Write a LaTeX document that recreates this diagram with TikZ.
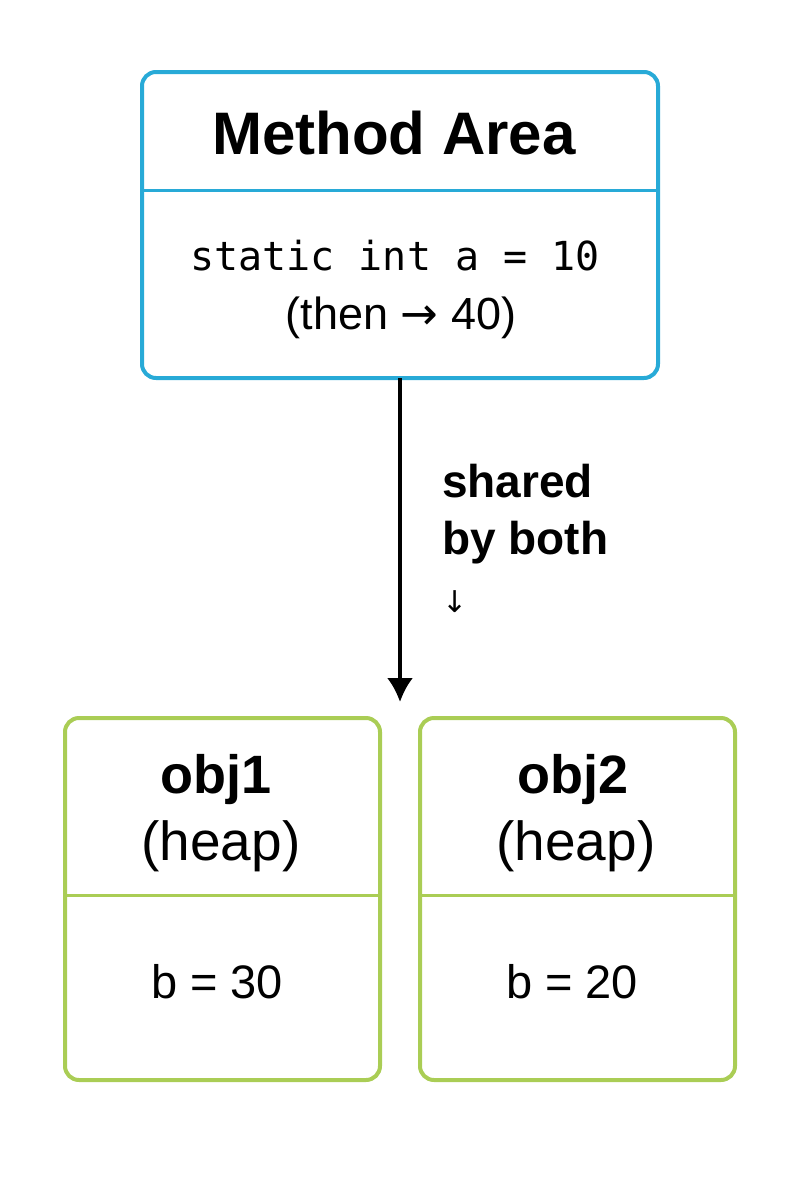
\documentclass[tikz,border=0pt]{standalone}
\usepackage{fontspec}
\usetikzlibrary{arrows.meta}
\setmainfont{Liberation Sans}
\setmonofont{DejaVu Sans Mono}
\newfontfamily\djfont{DejaVu Sans}
\definecolor{blu}{RGB}{40,170,215}
\definecolor{grn}{RGB}{170,205,85}
\begin{document}
\begin{tikzpicture}[x=1pt,y=-1pt,
  boxb/.style={draw=blu,line width=4pt,rounded corners=14pt},
  boxg/.style={draw=grn,line width=4pt,rounded corners=14pt},
  txt/.style={inner sep=0pt,anchor=base}]
\useasboundingbox (0,0) rectangle (800,1200);
% method area
\draw[boxb] (142,72) rectangle (658,378);
\draw[blu,line width=3pt] (142,190) -- (658,190);
\node[txt] (ma) at (394,154) {\fontsize{60}{70}\selectfont\bfseries Method Area};
\node[txt] (st) at (395,270) {\fontsize{40}{48}\selectfont\ttfamily static int a = 10};
\node[txt] (th) at (401,329) {\fontsize{45}{54}\selectfont(then {\djfont→} 40)};
\coordinate (top) at (400,378);
\coordinate (bot) at (400,702);
\draw[line width=3.5pt,-{Latex[length=24pt,width=26pt]}] (top) -- (bot);
\node[txt,anchor=base west] (sh) at (442,497) {\fontsize{46}{54}\selectfont\bfseries shared};
\node[txt,anchor=base west] (bb) at (442,554) {\fontsize{46}{54}\selectfont\bfseries by both};
\node[txt,anchor=base west] (ar) at (442,612) {\fontsize{30}{36}\selectfont\djfont ↓};
% obj1
\draw[boxg] (65,718) rectangle (380,1080);
\draw[grn,line width=3pt] (65,895) -- (380,895);
\node[txt] (o1) at (216,793) {\fontsize{54}{64}\selectfont\bfseries obj1};
\node[txt] (h1) at (221,860) {\fontsize{55}{66}\selectfont(heap)};
\node[txt] (b1) at (217,998) {\fontsize{47}{56}\selectfont b = 30};
% obj2
\draw[boxg] (420,718) rectangle (735,1080);
\draw[grn,line width=3pt] (420,895) -- (735,895);
\node[txt] (o2) at (573,793) {\fontsize{54}{64}\selectfont\bfseries obj2};
\node[txt] (h2) at (576,860) {\fontsize{55}{66}\selectfont(heap)};
\node[txt] (b2) at (572,998) {\fontsize{47}{56}\selectfont b = 20};
\end{tikzpicture}
\end{document}
